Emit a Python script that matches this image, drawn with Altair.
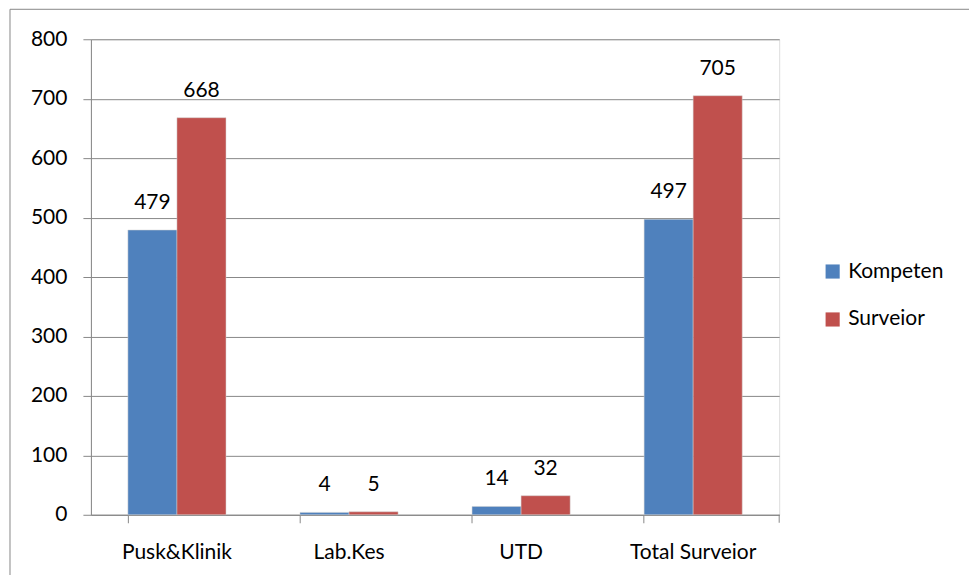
import altair as alt
import pandas as pd

categories = ["Pusk&Klinik", "Lab.Kes", "UTD", "Total Surveior"]
series = ["Kompeten", "Surveior"]
kompeten = [479, 4, 14, 497]
surveior = [668, 5, 32, 705]
y_ticks = [0, 100, 200, 300, 400, 500, 600, 700, 800]
colors = ["#4F81BD", "#C0504D"]

rows = []
for c, k, s in zip(categories, kompeten, surveior):
    rows.append({"cat": c, "series": series[0], "value": k})
    rows.append({"cat": c, "series": series[1], "value": s})
df = pd.DataFrame(rows)

W, H = 689, 476
FONT = "Lato"
FS = 21

x_enc = alt.X("cat:N", sort=categories, title=None,
              scale=alt.Scale(paddingInner=0.43, paddingOuter=0.215),
              axis=alt.Axis(labelAngle=0, bandPosition=0, tickSize=8, tickColor="#888888",
                            domainColor="#888888", labelPadding=19, labelFontSize=FS,
                            labelFont=FONT, labelColor="#000000", grid=False))
xo_enc = alt.XOffset("series:N", sort=series, scale=alt.Scale(paddingInner=0, paddingOuter=0))

base = alt.Chart(df)

bars = base.mark_bar(stroke="#d0d0d0", strokeWidth=0.5).encode(
    x=x_enc,
    xOffset=xo_enc,
    y=alt.Y("value:Q", title=None,
            scale=alt.Scale(domain=[0, 800], nice=False),
            axis=alt.Axis(values=y_ticks, tickSize=8, tickColor="#888888", domainColor="#888888",
                          gridColor="#888888", labelPadding=16, labelFontSize=FS, labelFont=FONT,
                          labelColor="#000000", grid=True)),
    color=alt.Color("series:N", sort=series, scale=alt.Scale(domain=series, range=colors),
                    legend=alt.Legend(title=None, orient="none", legendX=732, legendY=222,
                                      symbolType="square", symbolSize=200, symbolStrokeWidth=0,
                                      labelFontSize=FS, labelFont=FONT, labelColor="#000000",
                                      rowPadding=26, labelOffset=5)),
)

labels = base.mark_text(dy=-27, fontSize=FS, font=FONT, color="#000000").encode(
    x=alt.X("cat:N", sort=categories),
    xOffset=xo_enc,
    y=alt.Y("value:Q"),
    text=alt.Text("value:Q"),
)

end_tick = alt.Chart(pd.DataFrame({"a": [0]})).mark_rule(color="#888888").encode(
    x=alt.value(W), y=alt.value(H), y2=alt.value(H + 8)
)

frame = alt.Chart(pd.DataFrame({"a": [0]})).mark_rect(
    fill=None, stroke="#888888", strokeWidth=1, clip=False
).encode(
    x=alt.value(-81), x2=alt.value(886), y=alt.value(-30), y2=alt.value(560)
)

chart = alt.layer(frame, bars, labels, end_tick).properties(
    width=W, height=H,
    autosize=alt.AutoSizeParams(type="none"),
    padding={"left": 83, "top": 31, "right": 190, "bottom": 60},
).configure_view(stroke=None).configure(background="#ffffff")

chart.save("out.html", embed_options={"renderer": "svg", "actions": False})
